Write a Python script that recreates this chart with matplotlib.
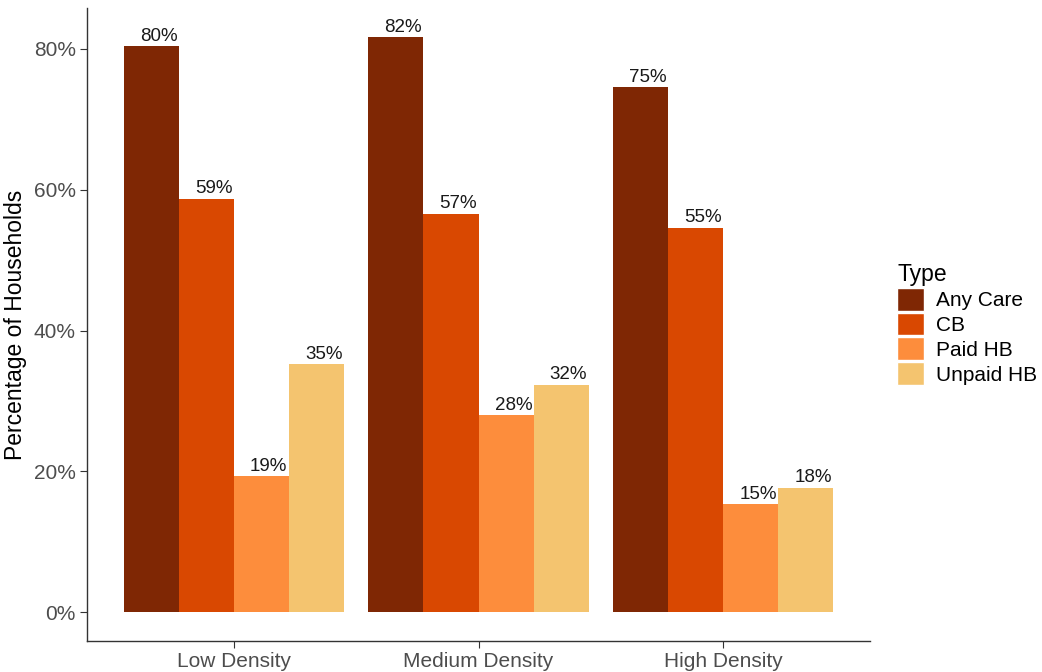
import matplotlib.pyplot as plt
import numpy as np
from matplotlib.patches import Patch

plt.rcParams['font.family'] = ['Liberation Sans', 'DejaVu Sans']

# data
densities = ['Low Density', 'Medium Density', 'High Density']
types = ['Any Care', 'CB', 'Paid HB', 'Unpaid HB']
any_care = [80.4, 81.7, 74.6]
cb = [58.7, 56.6, 54.6]
paid_hb = [19.3, 28.0, 15.3]
unpaid_hb = [35.2, 32.3, 17.7]
colors = ['#7f2704', '#d94801', '#fd8d3c', '#f4c46f']

series = [any_care, cb, paid_hb, unpaid_hb]

fig = plt.figure(figsize=(10.42, 6.72), dpi=100)
ax = fig.add_axes([0.0835, 0.046, 0.7515, 0.942])

x = np.arange(1, len(densities) + 1)
w = 0.225
for i, (vals, c) in enumerate(zip(series, colors)):
    xs = x + (i - 1.5) * w
    ax.bar(xs, vals, width=w, color=c, linewidth=0)
    for xi, v in zip(xs, vals):
        ax.text(xi + 0.03, v + 0.2, '%d%%' % round(v), ha='center', va='bottom',
                fontsize=13.5, color='#1a1a1a')

ax.set_xlim(0.4, 3.6)
ax.set_ylim(-4.1, 85.8)
ax.set_yticks([0, 20, 40, 60, 80])
ax.set_yticklabels(['0%', '20%', '40%', '60%', '80%'])
ax.set_xticks(x)
ax.set_xticklabels(densities)
ax.tick_params(axis='both', colors='#333333', labelcolor='#4d4d4d', labelsize=15, length=5, width=0.8, pad=3)
ax.set_ylabel('Percentage of Households', fontsize=16.5, color='black', labelpad=5)

for s in ['top', 'right']:
    ax.spines[s].set_visible(False)
for s in ['left', 'bottom']:
    ax.spines[s].set_color('#333333')
    ax.spines[s].set_linewidth(1.0)

handles = [Patch(facecolor=c, edgecolor='white', linewidth=1) for c in colors]
leg = fig.legend(handles, types, title='Type', loc='center left',
                 bbox_to_anchor=(0.843, 0.518), frameon=False, fontsize=15,
                 title_fontsize=16.5, handlelength=1.3, handleheight=1.3,
                 handletextpad=0.55, labelspacing=0.1, alignment='left')

fig.savefig('out.png', dpi=100)
